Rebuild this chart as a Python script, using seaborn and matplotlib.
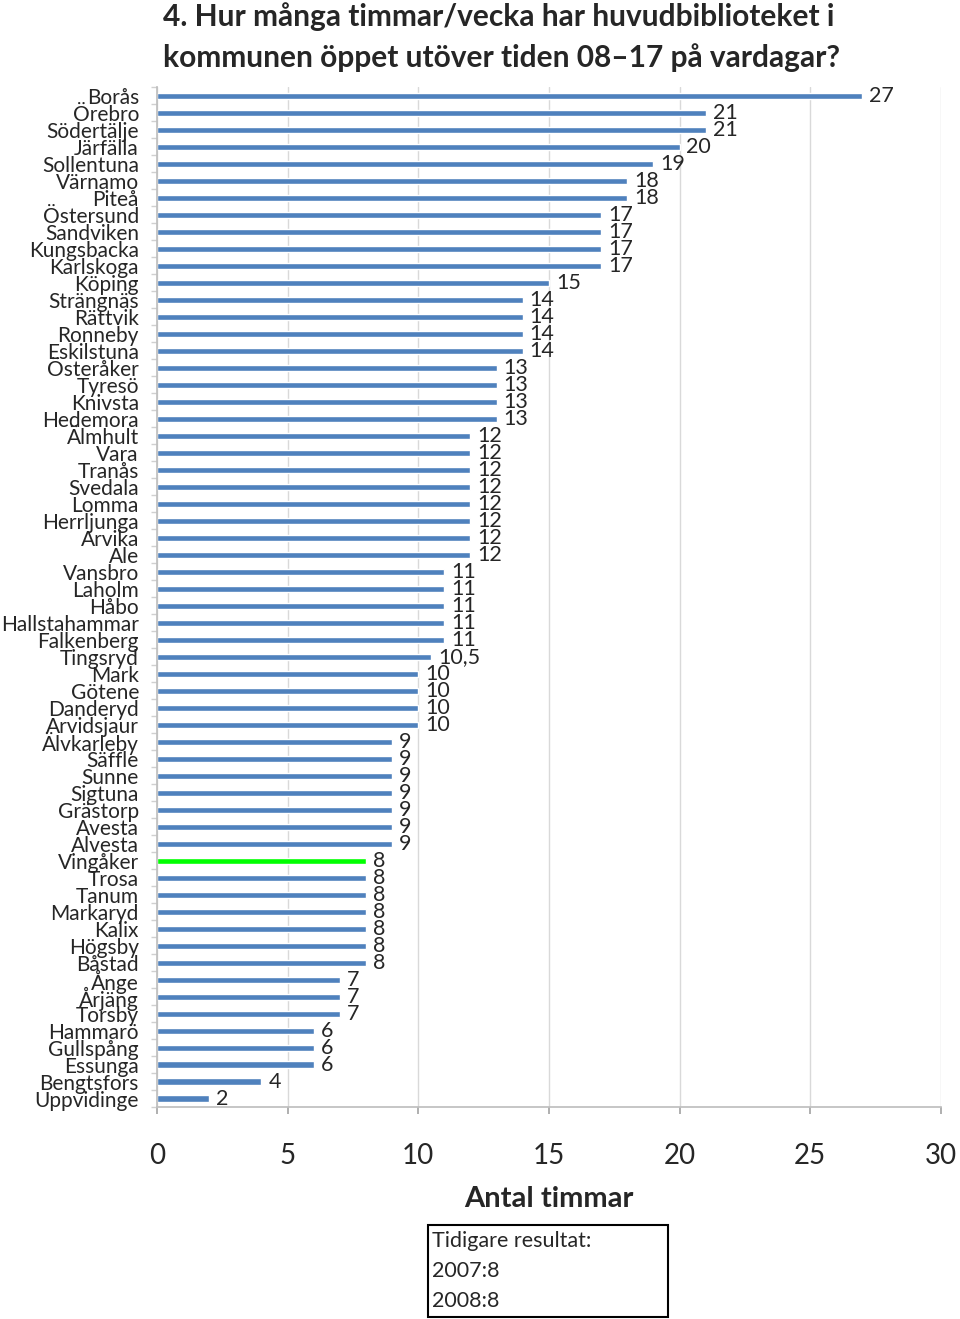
# Öppettider huvudbibliotek - horisontellt stapeldiagram
import numpy as np
import pandas as pd
import seaborn as sns
import matplotlib.pyplot as plt
from matplotlib.patches import Rectangle
from matplotlib.ticker import FixedLocator

# kommuner och timmar (läst från bilden)
kommuner = ["Borås", "Örebro", "Södertälje", "Järfälla", "Sollentuna", "Värnamo", "Piteå",
            "Östersund", "Sandviken", "Kungsbacka", "Karlskoga", "Köping", "Strängnäs",
            "Rättvik", "Ronneby", "Eskilstuna", "Österåker", "Tyresö", "Knivsta", "Hedemora",
            "Älmhult", "Vara", "Tranås", "Svedala", "Lomma", "Herrljunga", "Arvika", "Ale",
            "Vansbro", "Laholm", "Håbo", "Hallstahammar", "Falkenberg", "Tingsryd", "Mark",
            "Götene", "Danderyd", "Arvidsjaur", "Älvkarleby", "Säffle", "Sunne", "Sigtuna",
            "Grästorp", "Avesta", "Alvesta", "Vingåker", "Trosa", "Tanum", "Markaryd", "Kalix",
            "Högsby", "Båstad", "Ånge", "Årjäng", "Torsby", "Hammarö", "Gullspång", "Essunga",
            "Bengtsfors", "Uppvidinge"]
timmar = [27, 21, 21, 20, 19, 18, 18,
          17, 17, 17, 17, 15, 14,
          14, 14, 14, 13, 13, 13, 13,
          12, 12, 12, 12, 12, 12, 12, 12,
          11, 11, 11, 11, 11, 10.5, 10,
          10, 10, 10, 9, 9, 9, 9,
          9, 9, 9, 8, 8, 8, 8, 8,
          8, 8, 7, 7, 7, 6, 6, 6,
          4, 2]
markerad = "Vingåker"
tidigare = ["Tidigare resultat:", "2007:8", "2008:8"]

df = pd.DataFrame({"kommun": kommuner, "timmar": timmar})
farger = ["#00FF00" if k == markerad else "#4F81BD" for k in kommuner]

sns.set_theme(style="white")
plt.rcParams['font.family'] = ['Lato', 'DejaVu Sans']

fig = plt.figure(figsize=(9.6, 13.19), dpi=100)
ax = fig.add_axes([0.1635, 0.1607, 0.8165, 0.773])

sns.barplot(data=df, x="timmar", y="kommun", hue="kommun", palette=farger,
            legend=False, width=0.36, saturation=1, ax=ax)

# värdeetiketter med decimalkomma
for cont in ax.containers:
    ax.bar_label(cont, fmt=lambda v: f"{v:g}".replace(".", ","), padding=5, fontsize=15.5)

ax.set_xlim(0, 30)
ax.set_ylim(len(kommuner) - 0.5, -0.5)
ax.set_xticks(np.arange(0, 31, 5))
ax.tick_params(axis="x", labelsize=20, pad=21, length=5, color="#A6A6A6", direction="out", bottom=True)
ax.tick_params(axis="y", labelsize=15, pad=13, length=0)
ax.yaxis.set_minor_locator(FixedLocator(np.arange(-0.5, len(kommuner), 1)))
ax.tick_params(axis="y", which="minor", length=4, color="#D0D0D0", left=True)

ax.grid(axis="x", color="#D9D9D9", linewidth=1)
ax.set_axisbelow(True)
for s in ["top", "right"]:
    ax.spines[s].set_visible(False)
ax.spines["left"].set_color("#BFBFBF")
ax.spines["bottom"].set_color("#BFBFBF")

ax.set_ylabel("")
ax.set_xlabel("Antal timmar", fontsize=21, fontweight="bold", va="center")
ax.xaxis.set_label_coords(0.5, -0.0902)

fig.text(0.17, 0.9985, "4. Hur många timmar/vecka har huvudbiblioteket i\nkommunen öppet utöver tiden 08–17 på vardagar?",
         fontsize=21.5, fontweight="bold", ha="left", va="top", linespacing=1.5)

# ruta med tidigare resultat
fig.patches.append(Rectangle((428 / 960, 1 - 1317 / 1319), 240 / 960, 92 / 1319,
                             transform=fig.transFigure, facecolor="white",
                             edgecolor="black", linewidth=1.5))
for i, rad in enumerate(tidigare):
    fig.text(432 / 960, 1 - (1241 + 30 * i) / 1319, rad, fontsize=15.5, ha="left", va="center")

fig.savefig("out.png", dpi=100)
